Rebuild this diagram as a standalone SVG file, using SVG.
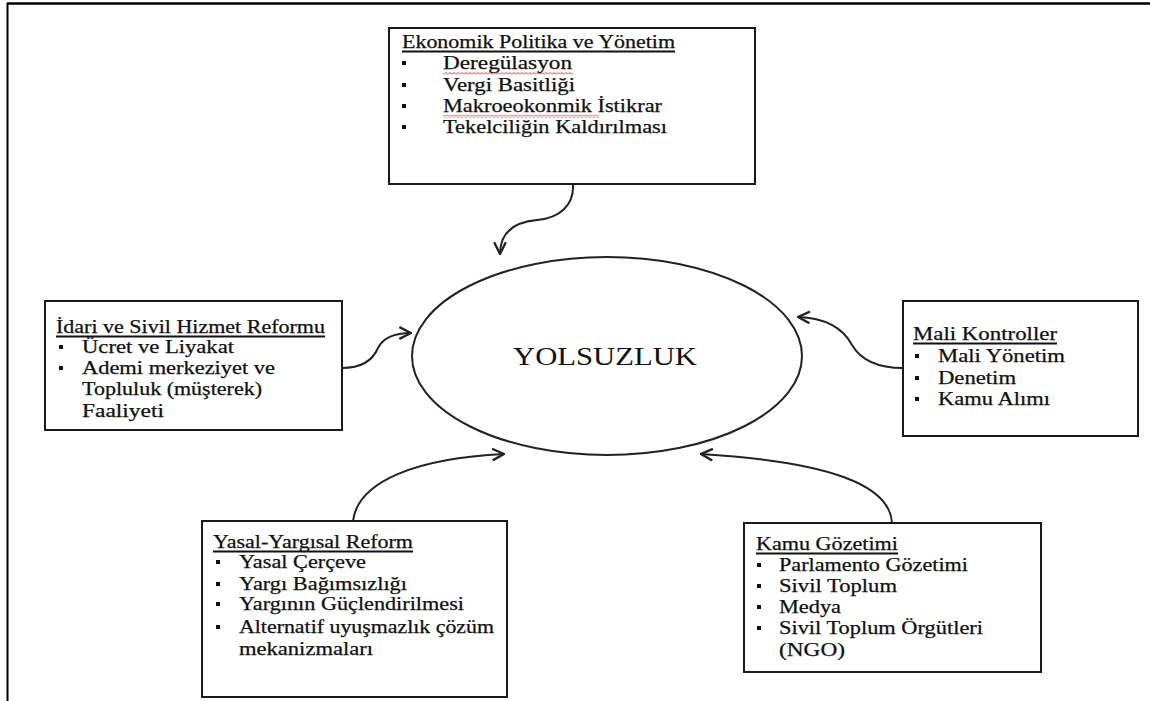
<svg xmlns="http://www.w3.org/2000/svg" width="1150" height="701" viewBox="0 0 1150 701">
<style>
.box{fill:#fff;stroke:#1a1a1a;stroke-width:2}
.t{font-family:"Liberation Serif","Times New Roman",serif;font-size:18px;fill:#111;stroke:#111;stroke-width:0.25}
.big{font-family:"Liberation Serif","Times New Roman",serif;font-size:26px;fill:#111}
.ul{stroke:#111;stroke-width:2}
.b{fill:#111}
.con{fill:none;stroke:#222;stroke-width:2;marker-end:url(#arr)}
.frame{stroke:#000;fill:none}
.sq{fill:url(#squig)}
</style>
<defs>
<marker id="arr" markerUnits="userSpaceOnUse" markerWidth="14" markerHeight="14" viewBox="0 0 12 12" refX="11" refY="6" orient="auto">
<path d="M1,1 L11,6 L1,11" fill="none" stroke="#222" stroke-width="2"/>
</marker>
<pattern id="squig" width="4" height="3" patternUnits="userSpaceOnUse">
<path d="M0,2.5 L2,0.5 L4,2.5" fill="none" stroke="#e02020" stroke-width="0.9"/>
</pattern>
</defs>
<rect width="1150" height="701" fill="#fff"/>
<g id="frame">
<line class="frame" x1="7" y1="3.5" x2="1150" y2="3.5" stroke-width="2.5"/>
<line class="frame" x1="7.5" y1="3" x2="7.5" y2="701" stroke-width="2"/>
</g>
<g id="connectors">
<path class="con" d="M573,185 C574,205 560,218 537,220 C515,222 500,232 500,254"/>
<path class="con" d="M342,368 C360,368 372,362 378,348 C384,336 398,333 411,333"/>
<path class="con" d="M903,368 C880,368 862,362 852,345 C843,328 825,318 798,317"/>
<path class="con" d="M353,521 C358,480 420,458 504,454"/>
<path class="con" d="M892,523 C890,485 830,462 701,454"/>
</g>
<g id="center">
<ellipse cx="607" cy="356" rx="195" ry="99" fill="none" stroke="#222" stroke-width="2"/>
<text class="big" x="513" y="365" textLength="184" lengthAdjust="spacingAndGlyphs">YOLSUZLUK</text>
</g>
<g id="ekonomik">
<rect class="box" x="389" y="28" width="366" height="156"/>
<text class="t" x="402" y="48" textLength="273" lengthAdjust="spacingAndGlyphs">Ekonomik Politika ve Yönetim</text>
<line class="ul" x1="402" y1="51.5" x2="675" y2="51.5"/>
<rect class="b" x="402" y="61" width="4" height="4"/>
<rect class="b" x="402" y="83" width="4" height="4"/>
<rect class="b" x="402" y="104" width="4" height="4"/>
<rect class="b" x="402" y="125" width="4" height="4"/>
<text class="t" x="443" y="69" textLength="129" lengthAdjust="spacingAndGlyphs">Deregülasyon</text>
<text class="t" x="443" y="91" textLength="132" lengthAdjust="spacingAndGlyphs">Vergi Basitliği</text>
<text class="t" x="443" y="112" textLength="219" lengthAdjust="spacingAndGlyphs">Makroeokonmik İstikrar</text>
<text class="t" x="443" y="133" textLength="224" lengthAdjust="spacingAndGlyphs">Tekelciliğin Kaldırılması</text>
<rect class="sq" x="443" y="72" width="130" height="3"/>
<rect class="sq" x="443" y="115" width="156" height="3"/>
</g>
<g id="idari">
<rect class="box" x="45" y="301" width="297" height="129"/>
<text class="t" x="56" y="333" textLength="269" lengthAdjust="spacingAndGlyphs">İdari ve Sivil Hizmet Reformu</text>
<line class="ul" x1="56" y1="336.5" x2="325" y2="336.5"/>
<rect class="b" x="59" y="345" width="4" height="4"/>
<rect class="b" x="59" y="366" width="4" height="4"/>
<text class="t" x="82" y="353" textLength="152" lengthAdjust="spacingAndGlyphs">Ücret ve Liyakat</text>
<text class="t" x="82" y="374" textLength="193" lengthAdjust="spacingAndGlyphs">Ademi merkeziyet ve</text>
<text class="t" x="82" y="395" textLength="180" lengthAdjust="spacingAndGlyphs">Topluluk (müşterek)</text>
<text class="t" x="82" y="417" textLength="82" lengthAdjust="spacingAndGlyphs">Faaliyeti</text>
</g>
<g id="mali">
<rect class="box" x="903" y="301" width="235" height="135"/>
<text class="t" x="913" y="340" textLength="144" lengthAdjust="spacingAndGlyphs">Mali Kontroller</text>
<line class="ul" x1="913" y1="343.5" x2="1057" y2="343.5"/>
<rect class="b" x="915" y="354" width="4" height="4"/>
<rect class="b" x="915" y="376" width="4" height="4"/>
<rect class="b" x="915" y="397" width="4" height="4"/>
<text class="t" x="938" y="362" textLength="127" lengthAdjust="spacingAndGlyphs">Mali Yönetim</text>
<text class="t" x="938" y="384" textLength="78" lengthAdjust="spacingAndGlyphs">Denetim</text>
<text class="t" x="938" y="405" textLength="112" lengthAdjust="spacingAndGlyphs">Kamu Alımı</text>
</g>
<g id="yasal">
<rect class="box" x="202" y="521" width="305" height="176"/>
<text class="t" x="213" y="548" textLength="200" lengthAdjust="spacingAndGlyphs">Yasal-Yargısal Reform</text>
<line class="ul" x1="213" y1="551.5" x2="413" y2="551.5"/>
<rect class="b" x="216" y="560" width="4" height="4"/>
<rect class="b" x="216" y="582" width="4" height="4"/>
<rect class="b" x="216" y="602" width="4" height="4"/>
<rect class="b" x="216" y="625" width="4" height="4"/>
<text class="t" x="239" y="568" textLength="127" lengthAdjust="spacingAndGlyphs">Yasal Çerçeve</text>
<text class="t" x="239" y="590" textLength="168" lengthAdjust="spacingAndGlyphs">Yargı Bağımsızlığı</text>
<text class="t" x="239" y="610" textLength="225" lengthAdjust="spacingAndGlyphs">Yargının Güçlendirilmesi</text>
<text class="t" x="239" y="633" textLength="255" lengthAdjust="spacingAndGlyphs">Alternatif uyuşmazlık çözüm</text>
<text class="t" x="239" y="655" textLength="134" lengthAdjust="spacingAndGlyphs">mekanizmaları</text>
</g>
<g id="kamu">
<rect class="box" x="744" y="523" width="297" height="149"/>
<text class="t" x="756" y="550" textLength="142" lengthAdjust="spacingAndGlyphs">Kamu Gözetimi</text>
<line class="ul" x1="756" y1="553.5" x2="898" y2="553.5"/>
<rect class="b" x="757" y="563" width="4" height="4"/>
<rect class="b" x="757" y="584" width="4" height="4"/>
<rect class="b" x="757" y="605" width="4" height="4"/>
<rect class="b" x="757" y="626" width="4" height="4"/>
<text class="t" x="779" y="571" textLength="189" lengthAdjust="spacingAndGlyphs">Parlamento Gözetimi</text>
<text class="t" x="779" y="592" textLength="118" lengthAdjust="spacingAndGlyphs">Sivil Toplum</text>
<text class="t" x="779" y="613" textLength="62" lengthAdjust="spacingAndGlyphs">Medya</text>
<text class="t" x="779" y="634" textLength="204" lengthAdjust="spacingAndGlyphs">Sivil Toplum Örgütleri</text>
<text class="t" x="779" y="656" textLength="66" lengthAdjust="spacingAndGlyphs">(NGO)</text>
</g>
</svg>
